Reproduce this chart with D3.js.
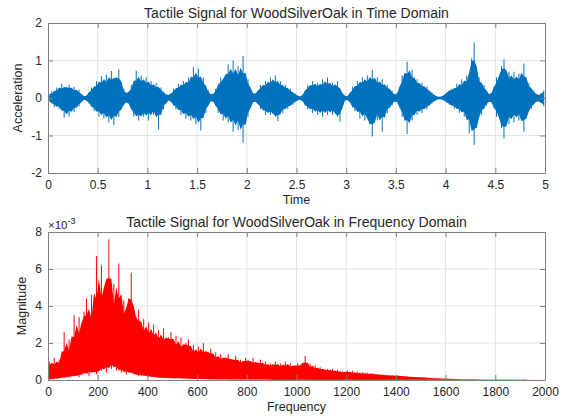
<!DOCTYPE html>
<html>
<head>
<meta charset="utf-8">
<script src="https://cdn.jsdelivr.net/npm/d3@7"></script>
<style>
  body { margin: 0; background: #fff; }
  text { font-family: "Liberation Sans", Arial, sans-serif; fill: #262626; }
  .tick line { stroke: #808080; }
  .domain { stroke: #808080; }
  .grid line { stroke: #e3e3e3; stroke-width: 1; }
</style>
</head>
<body>
<div id="chart"></div>
<script>
// Time domain: per-bin peak values (bin width 0.025 s)
const timeBin = 0.025;
const timeTicks = [0, 0.5, 1, 1.5, 2, 2.5, 3, 3.5, 4, 4.5, 5];
const accTicks = [-2, -1, 0, 1, 2];
const timeUpper = [
  0.05,0.18,0.12,0.28,0.18,0.38,0.20,0.30,0.35,0.18,
  0.30,0.15,0.22,0.08,0.03,0.03,0.15,0.28,0.20,0.45,
  0.30,0.58,0.32,0.62,0.35,0.72,0.38,0.50,0.77,0.30,
  0.25,0.06,0.10,0.35,0.30,0.73,0.38,0.60,0.35,0.55,
  0.30,0.45,0.25,0.40,0.22,0.28,0.12,0.10,0.04,0.10,
  0.25,0.18,0.38,0.25,0.45,0.30,0.55,0.35,0.82,0.45,
  0.78,0.40,0.55,0.25,0.20,0.06,0.04,0.25,0.30,0.55,
  0.40,0.60,0.90,0.45,1.00,0.50,0.85,0.45,1.12,0.40,
  0.50,0.22,0.12,0.04,0.20,0.35,0.25,0.45,0.30,0.55,
  0.35,0.60,0.32,0.45,0.25,0.35,0.20,0.25,0.12,0.12,
  0.05,0.03,0.05,0.20,0.35,0.25,0.45,0.30,0.40,0.25,
  0.50,0.30,0.55,0.28,0.40,0.25,0.45,0.22,0.12,0.04,
  0.03,0.10,0.30,0.22,0.45,0.30,0.55,0.35,0.60,0.35,
  0.75,0.35,0.55,0.30,0.50,0.25,0.35,0.20,0.20,0.06,
  0.03,0.30,0.60,0.45,0.97,0.50,0.75,0.40,0.50,0.30,
  0.40,0.25,0.30,0.15,0.15,0.06,0.04,0.03,0.03,0.08,
  0.15,0.20,0.25,0.18,0.38,0.25,0.50,0.30,0.60,0.40,
  1.06,1.48,0.50,0.55,0.30,0.35,0.18,0.08,0.04,0.30,
  0.55,0.40,0.85,1.03,0.50,0.70,0.40,0.70,0.38,0.65,
  0.45,0.92,0.35,0.40,0.20,0.20,0.08,0.05,0.12,0.20
];
const timeLower = [
  -0.05,-0.12,-0.25,-0.15,-0.30,-0.20,-0.52,-0.30,-0.50,-0.22,
  -0.38,-0.18,-0.22,-0.08,-0.03,-0.03,-0.15,-0.20,-0.35,-0.25,
  -0.50,-0.30,-0.55,-0.35,-0.65,-0.38,-0.72,-0.30,-0.50,-0.25,
  -0.20,-0.05,-0.10,-0.30,-0.50,-0.35,-0.60,-0.38,-0.50,-0.30,
  -0.60,-0.30,-0.45,-0.25,-0.84,-0.22,-0.30,-0.10,-0.04,-0.06,
  -0.20,-0.30,-0.20,-0.45,-0.30,-0.55,-0.35,-0.60,-0.38,-0.70,
  -0.40,-0.87,-0.35,-0.40,-0.15,-0.06,-0.04,-0.20,-0.40,-0.30,
  -0.60,-0.38,-0.65,-0.40,-0.90,-0.45,-0.85,-0.50,-1.19,-0.45,
  -0.50,-0.22,-0.10,-0.04,-0.15,-0.30,-0.25,-0.45,-0.30,-0.45,
  -0.30,-0.50,-0.62,-0.28,-0.40,-0.20,-0.30,-0.15,-0.18,-0.08,
  -0.06,-0.03,-0.05,-0.20,-0.30,-0.20,-0.40,-0.25,-0.45,-0.25,
  -0.50,-0.25,-0.45,-0.25,-0.45,-0.28,-0.50,-0.63,-0.12,-0.04,
  -0.03,-0.08,-0.25,-0.35,-0.22,-0.55,-0.30,-0.60,-0.35,-0.70,
  -1.03,-0.35,-0.60,-0.30,-0.90,-0.28,-0.40,-0.20,-0.20,-0.05,
  -0.03,-0.25,-0.50,-0.35,-0.96,-0.45,-0.60,-0.30,-0.45,-0.25,
  -0.40,-0.20,-0.30,-0.15,-0.15,-0.06,-0.04,-0.03,-0.03,-0.06,
  -0.12,-0.18,-0.15,-0.28,-0.20,-0.40,-0.25,-0.50,-0.30,-0.95,
  -0.45,-1.25,-0.80,-0.30,-0.45,-0.20,-0.20,-0.06,-0.04,-0.25,
  -0.50,-0.30,-0.80,-1.08,-0.45,-0.70,-0.35,-0.65,-0.30,-0.60,
  -0.35,-0.90,-0.50,-0.25,-0.30,-0.12,-0.10,-0.05,-0.12,-0.22
];

// Frequency domain: per-bin max/min (bin width 10 Hz), values in units of 1e-3
const freqBin = 10;
const freqTicks = [0, 200, 400, 600, 800, 1000, 1200, 1400, 1600, 1800, 2000];
const magTicks = [0, 2, 4, 6, 8];
const freqMax = [
  1.0,0.6,1.2,0.7,1.1,0.9,2.6,1.2,2.2,1.4,
  3.5,2.0,3.4,2.2,3.7,4.4,2.5,4.6,2.8,6.7,
  3.6,6.2,3.5,5.3,7.6,3.6,5.2,3.5,6.3,3.4,
  4.3,3.0,4.4,5.8,2.8,3.4,3.8,2.4,3.3,2.3,
  3.1,2.2,3.0,2.0,2.7,1.9,2.8,1.8,2.3,2.6,
  1.7,2.4,1.6,2.3,1.5,2.0,2.2,1.4,1.9,1.3,
  1.8,1.3,2.0,1.2,1.5,1.7,1.1,1.5,1.0,1.4,
  1.0,1.2,1.4,0.9,1.1,1.3,0.9,1.1,0.8,1.2,
  1.1,0.8,1.2,0.8,0.9,1.1,0.7,1.0,0.7,0.9,
  0.7,1.0,0.7,0.9,0.6,1.0,0.7,0.9,0.6,0.8,
  0.9,0.6,0.9,1.3,0.6,0.9,0.6,0.8,0.5,0.7,
  0.6,0.5,0.6,0.45,0.6,0.4,0.55,0.4,0.45,0.4,
  0.5,0.35,0.5,0.32,0.45,0.3,0.42,0.3,0.4,0.28,
  0.38,0.26,0.32,0.28,0.3,0.24,0.28,0.22,0.26,0.2,
  0.25,0.2,0.22,0.18,0.2,0.16,0.18,0.15,0.16,0.13,
  0.15,0.12,0.13,0.1,0.11,0.09,0.09,0.08,0.08,0.07,
  0.07,0.06,0.06,0.05,0.05,0.05,0.04,0.04,0.04,0.04,
  0.04,0.04,0.03,0.04,0.03,0.03,0.04,0.03,0.03,0.03,
  0.03,0.03,0.03,0.03,0.02,0.03,0.03,0.02,0.03,0.02,
  0.02,0.03,0.02,0.02,0.02,0.02,0.02,0.02,0.02,0.02
];
const freqMin = [
  0.02,0.05,0.10,0.05,0.10,0.15,0.10,0.20,0.15,0.20,
  0.20,0.30,0.15,0.40,0.30,0.50,0.20,0.60,0.40,0.30,
  0.60,0.50,0.80,0.40,0.90,0.60,1.00,0.50,0.70,0.40,
  0.60,0.30,0.50,0.40,0.30,0.35,0.20,0.30,0.25,0.20,
  0.20,0.15,0.20,0.15,0.10,0.15,0.10,0.12,0.10,0.10,
  0.10,0.08,0.12,0.08,0.10,0.06,0.08,0.05,0.07,0.05,
  0.06,0.05,0.07,0.04,0.05,0.04,0.05,0.03,0.04,0.03,
  0.04,0.03,0.04,0.03,0.03,0.04,0.03,0.03,0.02,0.03,
  0.03,0.02,0.03,0.02,0.03,0.02,0.02,0.03,0.02,0.02,
  0.02,0.02,0.02,0.02,0.02,0.02,0.02,0.02,0.02,0.02,
  0.02,0.02,0.02,0.02,0.02,0.02,0.02,0.02,0.02,0.02,
  0.01,0.01,0.01,0.01,0.01,0.01,0.01,0.01,0.01,0.01,
  0.01,0.01,0.01,0.01,0.01,0.01,0.01,0.01,0.01,0.01,
  0.01,0.01,0.01,0.01,0.01,0.01,0.01,0.01,0.01,0.01,
  0.01,0.01,0.01,0.01,0.01,0.01,0.01,0.01,0.01,0.01,
  0.01,0.01,0.01,0.01,0.01,0.01,0.01,0.01,0.01,0.01,
  0.01,0.01,0.01,0.01,0.01,0.01,0.01,0.01,0.01,0.01,
  0.01,0.01,0.01,0.01,0.01,0.01,0.01,0.01,0.01,0.01,
  0.01,0.01,0.01,0.01,0.01,0.01,0.01,0.01,0.01,0.01,
  0.01,0.01,0.01,0.01,0.01,0.01,0.01,0.01,0.01,0.01
];

const W = 571, H = 416;
const svg = d3.select("#chart").append("svg")
              .attr("width", W)
              .attr("height", H);

function drawPanel(p) {
  const x = d3.scaleLinear().domain(p.xDomain).range([48, 545]);
  const y = d3.scaleLinear().domain(p.yDomain).range([p.bottom, p.top]);
  const g = svg.append("g");
  const fmt = d => String(d);
  const n = p.upper.length;
  const xc = i => x(i * p.bin + p.bin / 2);

  // grid
  g.append("g").attr("class", "grid")
   .selectAll("line").data(p.xTicks.slice(1, -1)).enter().append("line")
   .attr("x1", d => x(d)).attr("x2", d => x(d))
   .attr("y1", p.top).attr("y2", p.bottom);
  g.append("g").attr("class", "grid")
   .selectAll("line").data(p.yTicks.slice(1, -1)).enter().append("line")
   .attr("y1", d => y(d)).attr("y2", d => y(d))
   .attr("x1", 48).attr("x2", 545);

  // dense core: the trace fills solid around the local average of the peaks
  const near = (arr, i) => d3.mean(arr.slice(Math.max(0, i - 1), Math.min(n, i + 2)));
  const core = d3.area()
                 .x((d, i) => xc(i))
                 .y0((d, i) => y(near(p.lower, i)))
                 .y1((d, i) => y(near(p.upper, i)));
  g.append("path")
   .datum(p.upper)
   .attr("fill", p.color)
   .attr("d", core);

  // per-bin peaks as thin spikes
  g.append("g")
   .selectAll("line").data(p.upper).enter().append("line")
   .attr("x1", (d, i) => xc(i)).attr("x2", (d, i) => xc(i))
   .attr("y1", (d, i) => y(p.lower[i]))
   .attr("y2", d => y(d))
   .attr("stroke", p.color)
   .attr("stroke-width", 1);

  // box with inward ticks
  g.append("g").attr("transform", "translate(0," + p.bottom + ")")
   .call(d3.axisBottom(x).tickValues(p.xTicks).tickFormat(fmt).tickSize(-5).tickSizeOuter(0).tickPadding(7))
   .call(a => a.selectAll("text").style("font-size", "12px").attr("fill", "#262626"));
  g.append("g").attr("transform", "translate(0," + p.top + ")")
   .call(d3.axisTop(x).tickValues(p.xTicks).tickSize(-5).tickSizeOuter(0).tickFormat(""));
  g.append("g").attr("transform", "translate(48,0)")
   .call(d3.axisLeft(y).tickValues(p.yTicks).tickFormat(fmt).tickSize(-5).tickSizeOuter(0).tickPadding(6))
   .call(a => a.selectAll("text").style("font-size", "12px").attr("fill", "#262626"));
  g.append("g").attr("transform", "translate(545,0)")
   .call(d3.axisRight(y).tickValues(p.yTicks).tickSize(-5).tickSizeOuter(0).tickFormat(""));

  // labels
  g.append("text")
   .attr("x", 296.5).attr("y", p.top - 5)
   .attr("text-anchor", "middle")
   .style("font-size", "14px")
   .text(p.title);
  g.append("text")
   .attr("x", 296.5).attr("y", p.bottom + 31)
   .attr("text-anchor", "middle")
   .style("font-size", "12.5px")
   .text(p.xLabel);
  g.append("text")
   .attr("transform", "translate(" + p.yLabelX + "," + (p.top + p.bottom) / 2 + ") rotate(-90)")
   .attr("text-anchor", "middle")
   .style("font-size", "12.5px")
   .text(p.yLabel);
  return g;
}

drawPanel({
  xDomain: [0, 5], yDomain: [-2, 2], top: 23, bottom: 173,
  xTicks: timeTicks, yTicks: accTicks,
  upper: timeUpper, lower: timeLower, bin: timeBin, color: "#0072BD",
  title: "Tactile Signal for WoodSilverOak in Time Domain",
  xLabel: "Time", yLabel: "Acceleration", yLabelX: 22
});

const fg = drawPanel({
  xDomain: [0, 2000], yDomain: [0, 8], top: 232, bottom: 380,
  xTicks: freqTicks, yTicks: magTicks,
  upper: freqMax, lower: freqMin, bin: freqBin, color: "#FF0000",
  title: "Tactile Signal for WoodSilverOak in Frequency Domain",
  xLabel: "Frequency", yLabel: "Magnitude", yLabelX: 26
});

// exponent label
const ex = fg.append("text").attr("x", 48).attr("y", 229).style("font-size", "11.5px");
ex.append("tspan").text("\u00d710");
ex.append("tspan").attr("dy", -5).style("font-size", "9px").text("-3");
</script>
</body>
</html>
